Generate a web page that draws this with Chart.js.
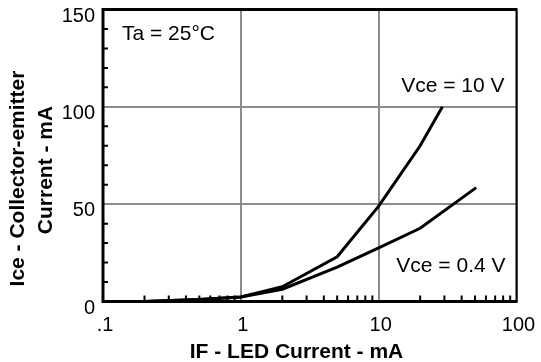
<!DOCTYPE html>
<html>
<head>
<meta charset="utf-8">
<script src="https://cdn.jsdelivr.net/npm/chart.js@4.4.1/dist/chart.umd.min.js"></script>
<style>
    html, body { margin: 0; padding: 0; background: #fff; }
    canvas { display: block; }
</style>
</head>
<body>
<canvas id="grafico" width="541" height="362"></canvas>
<script>
// dati (IF in mA, Ice in mA)
var ifLed10V = [0.1, 0.2, 0.5, 1, 2, 5, 10, 20, 29];
var ice10V = [0, 0, 1, 2.3, 7.6, 23, 49, 80, 100];
var ifLed04V = [0.1, 0.2, 0.5, 1, 2, 5, 10, 20, 51];
var ice04V = [0, 0, 1, 2.3, 6.3, 17.7, 27.5, 37.6, 58.5];

var xTicks = [0.1, 1, 10, 100];
var xTickLabels = ['.1', '1', '10', '100'];
var xMinorTicks = [0.2, 0.3, 0.4, 0.5, 0.6, 0.7, 0.8, 0.9,
                   2, 3, 4, 5, 6, 7, 8, 9,
                   20, 30, 40, 50, 60, 70, 80, 90];
var yTicks = [0, 50, 100, 150];
var yTickLabels = ['0', '50', '100', '150'];
var yMinorTicks = [10, 20, 30, 40, 60, 70, 80, 90, 110, 120, 130, 140];

var tempLabel = 'Ta = 25°C';
var curveLabels = ['Vce = 10 V', 'Vce = 0.4 V'];
var xTitle = 'IF - LED Current - mA';
var yTitle = ['Ice - Collector-emitter', 'Current - mA'];

var FONT = '"Liberation Sans", Arial, sans-serif';
Chart.defaults.font.family = FONT;
Chart.defaults.color = '#000';

function toPoints(xs, ys) {
    return xs.map(function (x, i) { return { x: x, y: ys[i] }; });
}

// cornice, tacche interne e testi
var decorazioni = {
    id: 'decorazioni',
    afterDraw: function (chart) {
        var ctx = chart.ctx;
        var a = chart.chartArea;
        var sx = chart.scales.x;
        var sy = chart.scales.y;
        ctx.save();
        ctx.strokeStyle = '#000';
        ctx.lineCap = 'butt';

        // tacche minori
        ctx.lineWidth = 2;
        ctx.beginPath();
        xMinorTicks.forEach(function (v) {
            var px = sx.getPixelForValue(v);
            ctx.moveTo(px, a.bottom);
            ctx.lineTo(px, a.bottom - 6);
        });
        yMinorTicks.forEach(function (v) {
            var py = sy.getPixelForValue(v);
            ctx.moveTo(a.left, py);
            ctx.lineTo(a.left + 5, py);
        });
        ctx.stroke();

        // cornice
        ctx.lineWidth = 3;
        ctx.beginPath();
        ctx.moveTo(a.right, a.top);
        ctx.lineTo(a.left, a.top);
        ctx.lineTo(a.left, a.bottom);
        ctx.lineTo(a.right + 1, a.bottom);
        ctx.stroke();
        ctx.lineWidth = 2;
        ctx.beginPath();
        ctx.moveTo(a.right, a.top - 1.5);
        ctx.lineTo(a.right, a.bottom);
        ctx.stroke();

        // etichette dentro il grafico
        ctx.fillStyle = '#000';
        ctx.font = '21px ' + FONT;
        ctx.textBaseline = 'alphabetic';
        ctx.textAlign = 'left';
        ctx.fillText(tempLabel, a.left + 19, a.top + 30.5);
        ctx.textAlign = 'right';
        ctx.fillText(curveLabels[0], a.right - 12, 92);
        ctx.fillText(curveLabels[1], a.right - 11, 272);

        // titoli degli assi
        ctx.font = 'bold 21px ' + FONT;
        ctx.textAlign = 'center';
        ctx.fillText(xTitle, 296.5, 358);
        ctx.textBaseline = 'middle';
        ctx.save();
        ctx.translate(18.5, 178.5);
        ctx.rotate(-Math.PI / 2);
        ctx.fillText(yTitle[0], 0, 0);
        ctx.restore();
        ctx.save();
        ctx.translate(46, 170);
        ctx.rotate(-Math.PI / 2);
        ctx.fillText(yTitle[1], 0, 0);
        ctx.restore();

        ctx.restore();
    }
};

var grafico = new Chart(document.getElementById('grafico'), {
    type: 'line',
    data: {
        datasets: [{
            label: curveLabels[0],
            data: toPoints(ifLed10V, ice10V),
            borderColor: '#000',
            borderWidth: 3,
            pointRadius: 0,
            tension: 0
        }, {
            label: curveLabels[1],
            data: toPoints(ifLed04V, ice04V),
            borderColor: '#000',
            borderWidth: 3,
            pointRadius: 0,
            tension: 0
        }]
    },
    options: {
        responsive: false,
        animation: false,
        devicePixelRatio: 1,
        layout: { padding: { left: 0, right: 24.5, top: 9.5, bottom: 0 } },
        plugins: {
            legend: { display: false },
            tooltip: { enabled: false }
        },
        scales: {
            x: {
                type: 'logarithmic',
                min: 0.1,
                max: 100,
                afterBuildTicks: function (scale) {
                    scale.ticks = xTicks.map(function (v) { return { value: v }; });
                },
                afterFit: function (scale) {
                    scale.height = 60.5;
                    scale.paddingLeft = 0;
                    scale.paddingRight = 0;
                },
                ticks: {
                    autoSkip: false,
                    maxRotation: 0,
                    padding: 12,
                    labelOffset: 2,
                    font: { size: 20 },
                    color: '#000',
                    callback: function (value) {
                        var i = xTicks.indexOf(value);
                        return i >= 0 ? xTickLabels[i] : '';
                    }
                },
                grid: { color: '#8c8c8c', lineWidth: 2, drawTicks: false },
                border: { display: false }
            },
            y: {
                type: 'linear',
                min: 0,
                max: 150,
                afterBuildTicks: function (scale) {
                    scale.ticks = yTicks.map(function (v) { return { value: v }; });
                },
                afterFit: function (scale) {
                    scale.width = 103;
                    scale.paddingTop = 0;
                    scale.paddingBottom = 0;
                },
                ticks: {
                    padding: 8,
                    labelOffset: 6.5,
                    font: { size: 20 },
                    color: '#000',
                    callback: function (value) {
                        var i = yTicks.indexOf(value);
                        return i >= 0 ? yTickLabels[i] : '';
                    }
                },
                grid: { color: '#8c8c8c', lineWidth: 2, drawTicks: false },
                border: { display: false }
            }
        }
    },
    plugins: [decorazioni]
});
</script>
</body>
</html>
